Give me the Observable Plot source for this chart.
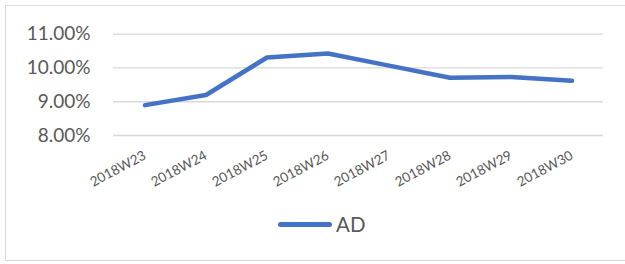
<!DOCTYPE html>
<html>
<head>
<meta charset="utf-8">
<script src="https://cdn.jsdelivr.net/npm/d3@7"></script>
<script src="https://cdn.jsdelivr.net/npm/@observablehq/plot@0.6"></script>
<style>
  html, body { margin: 0; padding: 0; background: #fff; }
  body { width: 625px; height: 264px; position: relative; overflow: hidden; font-family: Lato, "Open Sans", sans-serif; }
  #frame { position: absolute; left: 5px; top: 5px; width: 640px; height: 256px; border: 1.5px solid #d9d9d9; box-sizing: border-box; }
  #chart { position: absolute; left: 0; top: 0; }
  #legend { position: absolute; left: 278px; top: 212px; display: flex; align-items: center; color: #595959; font-size: 20.5px; font-family: Lato, sans-serif; }
  #legend .sw { width: 54px; height: 5px; border-radius: 3px; background: #4472c4; margin-right: 4px; }
</style>
</head>
<body>
<div id="frame"></div>
<div id="chart"></div>
<div id="legend"><span class="sw"></span><span>AD</span></div>
<script>
const weeks = ["2018W23","2018W24","2018W25","2018W26","2018W27","2018W28","2018W29","2018W30"];
const adValues = [8.90, 9.20, 10.31, 10.43, 10.07, 9.71, 9.73, 9.62];
const yTicks = [8, 9, 10, 11];
const seriesName = "AD";

const data = weeks.map((w, i) => ({week: w, value: adValues[i], series: seriesName}));

const chart = Plot.plot({
  width: 625,
  height: 200,
  marginTop: 33.7,
  marginBottom: 65,
  marginLeft: 113,
  marginRight: 22,
  style: {fontFamily: "Lato, 'Open Sans', sans-serif", color: "#595959", background: "transparent"},
  x: {type: "band", domain: weeks, padding: 0, align: 0.5, label: null},
  y: {domain: [8, 11], ticks: yTicks, label: null},
  marks: [
    Plot.gridY(yTicks, {stroke: "#d9d9d9", strokeOpacity: 1, strokeWidth: 1.3}),
    Plot.axisY(yTicks, {tickSize: 0, tickPadding: 23, fontSize: 19, fill: "#595959", label: null, tickFormat: d => d.toFixed(2) + "%"}),
    Plot.axisX({tickSize: 0, tickPadding: 19, tickRotate: -28, fontSize: 13.5, fill: "#595959", label: null}),
    Plot.line(data, {x: "week", y: "value", stroke: "#4472c4", strokeWidth: 4.5, strokeLinecap: "round", strokeLinejoin: "round"})
  ]
});
document.getElementById("chart").appendChild(chart);
</script>
</body>
</html>
